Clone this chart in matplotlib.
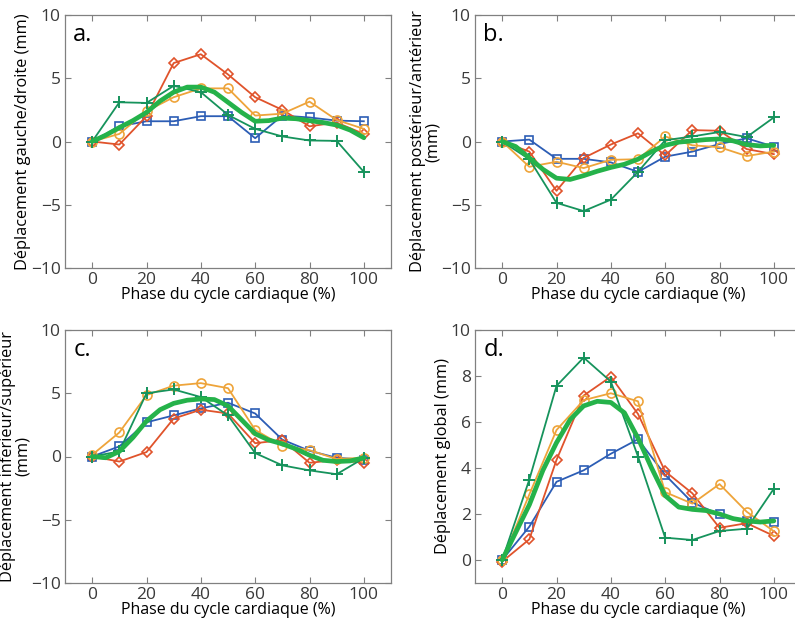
"""Déplacement au cours du cycle cardiaque — 4 panneaux (a-d)."""
import matplotlib.pyplot as plt
import matplotlib as mpl
import numpy as np

mpl.rcParams["font.family"] = ["Open Sans", "DejaVu Sans"]
mpl.rcParams["axes.unicode_minus"] = True

# ─── données ───────────────────────────────────────────────────────
PHASE = [0, 10, 20, 30, 40, 50, 60, 70, 80, 90, 100]
PHASE_MEAN = [0, 5, 10, 15, 20, 25, 30, 35, 40, 45, 50,
              55, 60, 65, 70, 75, 80, 85, 90, 95, 100]

# a. gauche/droite
A_RED = [0, -0.24, 2.0, 6.2, 6.9, 5.3, 3.5, 2.5, 1.2, 1.5, 0.6]
A_ORANGE = [0, 0.6, 2.4, 3.5, 4.2, 4.2, 2.05, 2.2, 3.15, 1.7, 1.0]
A_BLUE = [0, 1.2, 1.6, 1.6, 2.0, 2.0, 0.26, 2.05, 1.9, 1.65, 1.6]
A_GREEN = [0, 3.1, 3.05, 4.4, 3.9, 2.1, 1.0, 0.4, 0.08, 0.05, -2.4]
A_MEAN = [0, 0.5, 1.1, 1.65, 2.3, 3.2, 3.9, 4.3, 4.3, 3.9, 3.1,
          2.3, 1.6, 1.65, 1.85, 1.8, 1.65, 1.5, 1.3, 0.9, 0.3]

# b. postérieur/antérieur
B_RED = [0, -0.8, -3.9, -1.3, -0.24, 0.65, -1.1, 0.9, 0.85, -0.6, -1.0]
B_ORANGE = [0, -2.0, -1.6, -2.1, -1.45, -1.4, 0.4, -0.3, -0.45, -1.15, -0.8]
B_BLUE = [0, 0.15, -1.37, -1.37, -1.65, -2.4, -1.2, -0.8, -0.2, 0.25, -0.4]
B_GREEN = [0, -1.4, -4.85, -5.5, -4.6, -2.4, 0.1, 0.4, 0.75, 0.35, 1.9]
B_MEAN = [0, -0.4, -1.3, -2.2, -2.9, -3.0, -2.7, -2.35, -2.05, -1.8, -1.4,
          -0.8, -0.3, -0.05, 0.05, 0.15, 0.2, 0.05, -0.25, -0.35, -0.3]

# c. inferieur/supérieur
C_RED = [0, -0.4, 0.35, 3.0, 3.7, 3.4, 1.05, 1.3, -0.5, -0.27, -0.5]
C_ORANGE = [0.13, 1.9, 4.85, 5.6, 5.8, 5.4, 2.1, 0.85, 0.5, -0.2, -0.1]
C_BLUE = [0, 0.8, 2.7, 3.25, 3.8, 4.25, 3.4, 1.33, 0.45, -0.1, -0.25]
C_GREEN = [0, 0.4, 5.0, 5.3, 4.7, 3.25, 0.27, -0.7, -1.1, -1.4, -0.13]
C_MEAN = [0, -0.1, 0.4, 1.5, 2.8, 3.7, 4.2, 4.45, 4.55, 4.5, 4.0,
          2.9, 1.8, 1.3, 1.0, 0.6, 0.1, -0.3, -0.4, -0.35, -0.1]

# d. global
D_RED = [-0.07, 0.9, 4.35, 7.15, 7.97, 6.35, 3.85, 2.9, 1.4, 1.6, 1.05]
D_ORANGE = [0, 2.85, 5.65, 6.95, 7.25, 6.9, 2.95, 2.45, 3.3, 2.1, 1.25]
D_BLUE = [0, 1.45, 3.4, 3.9, 4.62, 5.25, 3.7, 2.5, 1.98, 1.7, 1.65]
D_GREEN = [0, 3.5, 7.57, 8.8, 7.76, 4.5, 0.97, 0.87, 1.26, 1.36, 3.1]
D_MEAN = [0, 1.2, 2.4, 3.9, 5.1, 6.1, 6.7, 6.9, 6.85, 6.4, 5.3,
          4.0, 2.8, 2.3, 2.2, 2.15, 2.0, 1.8, 1.7, 1.65, 1.7]

RED = "#E0532B"
ORANGE = "#EEA43A"
BLUE = "#2C5DB5"
GREEN = "#16935C"
MEAN_GREEN = "#25B24A"

PANELS = [
    ("a.", "Déplacement gauche/droite (mm)", (-10, 10), [-10, -5, 0, 5, 10],
     A_RED, A_ORANGE, A_BLUE, A_GREEN, A_MEAN),
    ("b.", "Déplacement postérieur/antérieur\n(mm)", (-10, 10), [-10, -5, 0, 5, 10],
     B_RED, B_ORANGE, B_BLUE, B_GREEN, B_MEAN),
    ("c.", "Déplacement inferieur/supérieur\n(mm)", (-10, 10), [-10, -5, 0, 5, 10],
     C_RED, C_ORANGE, C_BLUE, C_GREEN, C_MEAN),
    ("d.", "Déplacement global (mm)", (-1, 10), [0, 2, 4, 6, 8, 10],
     D_RED, D_ORANGE, D_BLUE, D_GREEN, D_MEAN),
]

# positions en pixels (gauche, haut) — b et d débordent à droite comme l'original
W, H = 795, 623
POS = [(65, 15), (475, 15), (65, 330), (475, 330)]
AX_W, AX_H = 326, 253

fig = plt.figure(figsize=(W / 100, H / 100), dpi=100)

for (px, py), (letter, ylabel, ylim, yticks, red, orange, blue, green, mean) in zip(POS, PANELS):
    ax = fig.add_axes([px / W, 1 - (py + AX_H) / H, AX_W / W, AX_H / H])
    ax.plot(PHASE, blue, "-s", color=BLUE, lw=1.3, ms=6, mfc="none", mew=1.2)
    ax.plot(PHASE, red, "-D", color=RED, lw=1.3, ms=5.5, mfc="none", mew=1.2)
    ax.plot(PHASE, orange, "-o", color=ORANGE, lw=1.3, ms=6.5, mfc="none", mew=1.2)
    ax.plot(PHASE, green, "-+", color=GREEN, lw=1.3, ms=8, mew=1.4)
    ax.plot(PHASE_MEAN, mean, "-", color=MEAN_GREEN, lw=3.4, solid_capstyle="round", zorder=5)

    ax.set_xlim(-10, 110)
    ax.set_ylim(*ylim)
    ax.set_xticks([0, 20, 40, 60, 80, 100])
    ax.set_yticks(yticks)
    ax.tick_params(direction="in", top=True, right=True, length=4, width=0.8,
                   color="#808080", labelsize=12.5, labelcolor="#3a3a3a", pad=3)
    for s in ax.spines.values():
        s.set_color("#808080")
        s.set_linewidth(0.9)
    ax.set_xlabel("Phase du cycle cardiaque (%)", fontsize=11.5, labelpad=-1)
    ax.set_ylabel(ylabel, fontsize=11.8, labelpad=0, linespacing=0.95)
    ax.text(0.025, 0.97, letter, transform=ax.transAxes, ha="left", va="top", fontsize=17)

fig.savefig("out.png", dpi=100)
